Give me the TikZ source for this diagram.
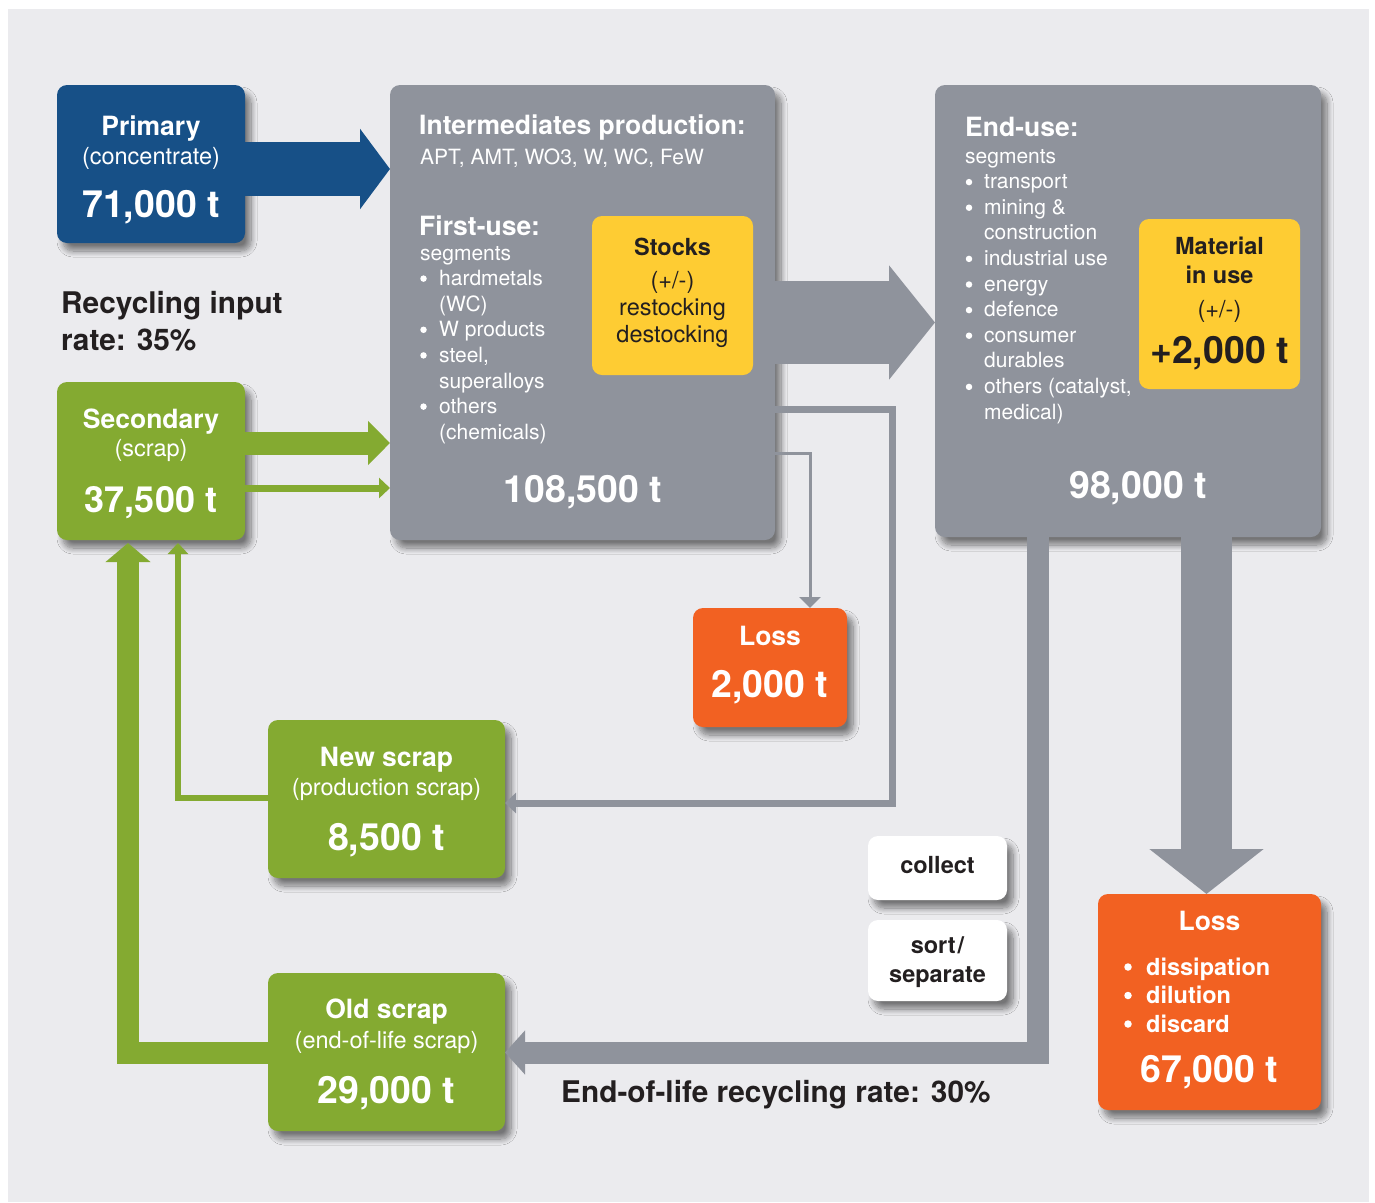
\documentclass[tikz,border=0pt]{standalone}
\usepackage{fontspec}
\setmainfont{TeX Gyre Heros}
\usetikzlibrary{calc,arrows.meta,shadows.blur}
\definecolor{bgc}{HTML}{EBEBEE}
\definecolor{bluec}{HTML}{175087}
\definecolor{grayc}{HTML}{8F939C}
\definecolor{greenc}{HTML}{84AA31}
\definecolor{yellowc}{HTML}{FECC33}
\definecolor{orangec}{HTML}{F26122}
\definecolor{darkc}{HTML}{231F20}
\begin{document}
\begin{tikzpicture}[x=1pt,y=-1pt,
  boxst/.style={rounded corners=10pt, inner sep=0pt, outer sep=0pt, draw=none},
  shad/.style={blur shadow={shadow xshift=6pt,shadow yshift=-8pt,shadow blur radius=6pt,shadow opacity=50,shadow blur steps=12}},
  tHd/.style={font=\fontsize{26.5}{30}\selectfont\bfseries, text=white, anchor=base, inner sep=0pt},
  tSub/.style={font=\fontsize{23.5}{27}\selectfont, text=white, anchor=base, inner sep=0pt},
  tNum/.style={font=\fontsize{37.5}{40}\selectfont\bfseries, text=white, anchor=base, inner sep=0pt},
  tLst/.style={font=\fontsize{21}{25}\selectfont, text=white, anchor=base west, inner sep=0pt},
  bul/.style={circle, fill=white, inner sep=0pt, outer sep=0pt, minimum size=6.5pt},
  tDk/.style={font=\fontsize{23.5}{27}\selectfont\bfseries, text=darkc, anchor=base, inner sep=0pt},
  tDkR/.style={font=\fontsize{23.5}{27}\selectfont, text=darkc, anchor=base, inner sep=0pt},
  tBig/.style={font=\fontsize{29.8}{33}\selectfont\bfseries, text=darkc, anchor=base west, inner sep=0pt},
  tLoss/.style={font=\fontsize{23.5}{27}\selectfont\bfseries, text=white, anchor=base west, inner sep=0pt},
]
\useasboundingbox (0,0) rectangle (1375,1202);
\fill[bgc] (8,9) rectangle (1369,1202);

% boxes
\node[boxst, shad, fill=bluec, minimum width=188pt, minimum height=158pt] (prim) at (151,164) {};
\node[boxst, shad, fill=greenc, minimum width=188pt, minimum height=158pt] (sec) at (151,461) {};
\node[boxst, shad, fill=grayc, minimum width=385pt, minimum height=455pt] (inter) at (582.5,312.5) {};
\node[boxst, fill=yellowc, minimum width=161pt, minimum height=159pt] (stocks) at (672.5,295.5) {};
\node[boxst, shad, fill=grayc, minimum width=386pt, minimum height=452pt] (end) at (1128,311) {};
\node[boxst, fill=yellowc, minimum width=161pt, minimum height=170pt] (miu) at (1219.5,304) {};
\node[boxst, shad, fill=greenc, minimum width=237pt, minimum height=158pt] (nscrap) at (386.5,799) {};
\node[boxst, shad, fill=greenc, minimum width=237pt, minimum height=158pt] (oscrap) at (386.5,1052) {};
\node[boxst, shad, fill=orangec, minimum width=154pt, minimum height=119pt] (loss) at (770,667.5) {};
\node[boxst, shad, fill=orangec, minimum width=223pt, minimum height=216pt] (bigloss) at (1209.5,1002) {};
\node[boxst, shad, fill=white, minimum width=139pt, minimum height=64pt] (collect) at (937.5,868) {};
\node[boxst, shad, fill=white, minimum width=139pt, minimum height=81pt] (sort) at (937.5,960.5) {};

% connectors
\draw[bluec, line width=54pt, -{Triangle[length=30pt,width=79pt]}]
  ($(prim.east)+(0,5)$) coordinate (b1) -- (b1 -| inter.west);
\draw[greenc, line width=23pt, -{Triangle[length=22pt,width=43pt]}]
  ($(sec.east)+(0,-18)$) coordinate (g1) -- (g1 -| inter.west);
\draw[greenc, line width=7pt, -{Triangle[length=11pt,width=20pt]}]
  ($(sec.east)+(0,27)$) coordinate (g2) -- (g2 -| inter.west);
\draw[grayc, line width=83pt, -{Triangle[length=46pt,width=112pt]}]
  ($(inter.east)+(0,10)$) coordinate (m1) -- (m1 -| end.west);
\draw[grayc, line width=3pt, -{Triangle[length=11pt,width=21pt]}]
  ($(inter.east)+(0,140.5)$) -| ($(loss.north)+(40,0)$);
\draw[grayc, line width=7pt, line join=miter, -{Triangle[length=11pt,width=20pt]}]
  ($(inter.east)+(0,96.5)$) -- ++(117,0) |- ($(nscrap.east)+(0,4)$);
\draw[grayc, line width=22pt, line join=miter, -{Triangle[length=20pt,width=43pt]}]
  ($(end.south)+(-90,0)$) |- ($(oscrap.east)+(0,0.5)$);
\draw[grayc, line width=51pt, -{Triangle[length=45pt,width=112pt]}]
  ($(end.south)+(78.5,0)$) coordinate (d1) -- (d1 |- bigloss.north);
\draw[greenc, line width=22pt, line join=miter, -{Triangle[length=19pt,width=44pt]}]
  ($(oscrap.west)+(0,0.5)$) -| ($(sec.south)+(-23,3)$);
\draw[greenc, line width=6.5pt, line join=miter, -{Triangle[length=11pt,width=20pt]}]
  ($(nscrap.west)+(0,-1)$) -| ($(sec.south)+(27,3)$);

% texts: primary / secondary / scraps
\node[tHd] (primT) at (151,135) {Primary};
\node[tSub] (primS) at (151,164) {(concentrate)};
\node[tNum] (primN) at (151,217) {71,000 t};
\node[tHd] (secT) at (151,428) {Secondary};
\node[tSub] (secS) at (151,456) {(scrap)};
\node[tNum, font=\fontsize{36}{40}\selectfont\bfseries] (secN) at (151,512) {37,500 t};
\node[tHd] (nsT) at (386.5,766) {New scrap};
\node[tSub] (nsS) at (386.5,795) {(production scrap)};
\node[tNum] (nsN) at (386.5,850) {8,500 t};
\node[tHd] (osT) at (386.5,1018) {Old scrap};
\node[tSub] (osS) at (386.5,1048) {(end-of-life scrap)};
\node[tNum] (osN) at (386.5,1103) {29,000 t};

% intermediates
\node[tHd, anchor=base west] (intT) at (419,134) {Intermediates production:};
\node[tLst] (intS) at (420,164) {APT, AMT, WO3, W, WC, FeW};
\node[tHd, anchor=base west] (fuT) at (419,235) {First-use:};
\foreach \t/\b [count=\i from 0] in {segments/0, hardmetals/1, (WC)/0, W products/1, {steel,}/1, superalloys/0, others/1, (chemicals)/0} {
  \pgfmathsetmacro\xx{\i==0 ? 420 : 439}
  \ifnum\b=1 \node[bul] (fub\i) at (423.5,{253+25.6*\i}) {}; \fi
  \node[tLst] (fu\i) at (\xx,{260+25.6*\i}) {\t};
}
\node[tNum] (intN) at (583,502) {108,500 t};
\node[tDk] (stT) at (672.5,255) {Stocks};
\node[tDkR] (stA) at (672.5,288) {(+/-)};
\node[tDkR] (stB) at (672.5,315) {restocking};
\node[tDkR] (stC) at (672.5,342) {destocking};

% end-use
\node[tHd, anchor=base west] (euT) at (965,136) {End-use:};
\foreach \t/\b [count=\i from 0] in {segments/0, transport/1, mining \&/1, construction/0, industrial use/1, energy/1, defence/1, consumer/1, durables/0, {others (catalyst,}/1, medical)/0} {
  \pgfmathsetmacro\xx{\i==0 ? 965 : 984}
  \ifnum\b=1 \node[bul] (eub\i) at (969,{156.5+25.6*\i}) {}; \fi
  \node[tLst] (eu\i) at (\xx,{163+25.6*\i}) {\t};
}
\node[tNum] (euN) at (1138,498) {98,000 t};
\node[tDk] (miuA) at (1219.5,254) {Material};
\node[tDk] (miuB) at (1219.5,283) {in use};
\node[tDkR] (miuC) at (1219.5,317) {(+/-)};
\node[tNum, text=darkc] (miuN) at (1219.5,363) {+2,000 t};

% losses
\node[tHd] (lossT) at (770,645) {Loss};
\node[tNum] (lossN) at (770,697) {2,000 t};
\node[tHd] (blT) at (1209.5,930) {Loss};
\foreach \t [count=\i from 0] in {dissipation, dilution, discard} {
  \node[bul, minimum size=7.5pt] (blb\i) at (1128,{967+28.5*\i}) {};
  \node[tLoss] (bl\i) at (1146,{975+28.5*\i}) {\t};
}
\node[tNum] (blN) at (1209.5,1082) {67,000 t};

% collect / sort
\node[tDk] (colT) at (937.5,873) {collect};
\node[tDk] (sortA) at (937.5,953) {sort\kern2pt/};
\node[tDk] (sortB) at (937.5,982) {separate};

% rates
\node[tBig] (rin1) at (61,313) {Recycling input};
\node[tBig] (rin2) at (61,350) {rate: 35\%};
\node[tBig] (eol) at (561,1102) {End-of-life recycling rate: 30\%};
\end{tikzpicture}
\end{document}
